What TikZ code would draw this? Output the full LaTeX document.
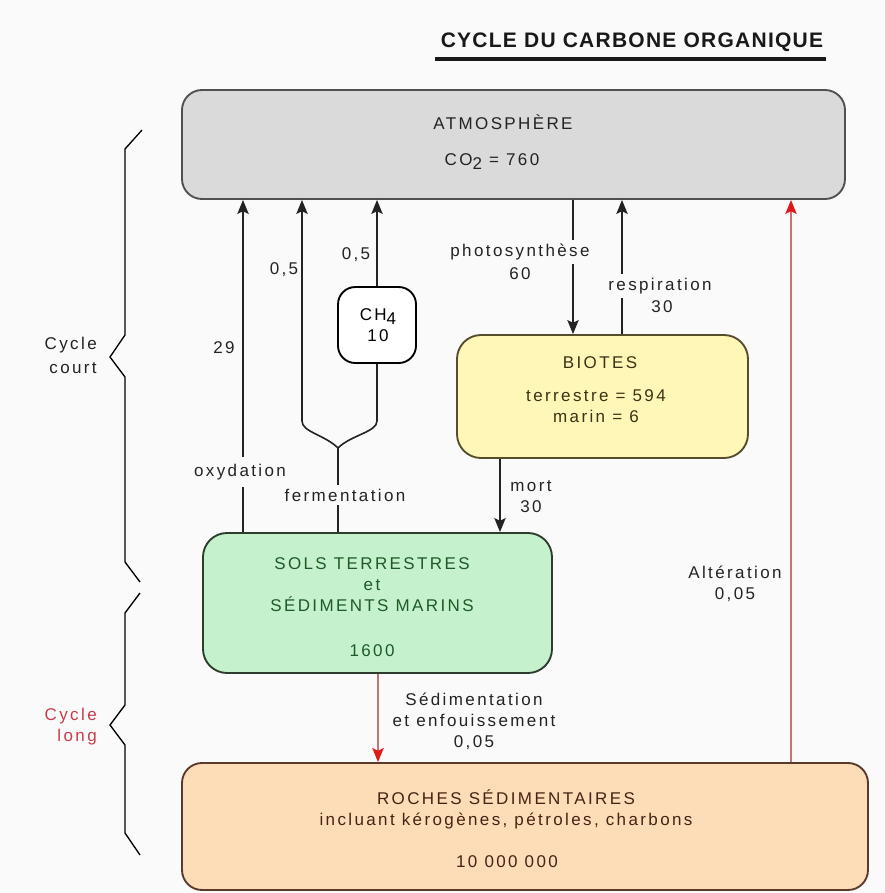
\documentclass[tikz,border=0pt]{standalone}
\usepackage{fontspec}
\setmainfont{Liberation Sans}[LetterSpace=14]
\newfontfamily\titlefont{Liberation Sans}[LetterSpace=6]
\usetikzlibrary{arrows.meta,fit}
\definecolor{bg}{RGB}{250,250,250}
\definecolor{tgray}{RGB}{35,35,35}
\definecolor{lgray}{RGB}{35,35,35}
\definecolor{titlecol}{RGB}{25,25,25}
\definecolor{atmfill}{RGB}{218,218,218}
\definecolor{atmdraw}{RGB}{80,80,80}
\definecolor{biofill}{RGB}{255,247,183}
\definecolor{biodraw}{RGB}{85,78,45}
\definecolor{biotext}{RGB}{60,50,20}
\definecolor{solfill}{RGB}{197,242,205}
\definecolor{soldraw}{RGB}{45,60,45}
\definecolor{soltext}{RGB}{30,90,40}
\definecolor{rocfill}{RGB}{253,221,184}
\definecolor{rocdraw}{RGB}{90,58,42}
\definecolor{roctext}{RGB}{70,35,20}
\definecolor{redline}{RGB}{200,115,115}
\definecolor{redtip}{RGB}{225,25,25}
\definecolor{redtext}{RGB}{200,60,75}
\begin{document}
\begin{tikzpicture}[x=0.75pt,y=-0.75pt,
  txt/.style={font=\fontsize{12.75pt}{15.75pt}\selectfont, text=tgray, inner sep=0pt, align=center},
  lbl/.style={txt, fill=bg, inner xsep=1pt, inner ysep=3pt},
  box/.style={draw, line width=1.4pt, inner sep=0pt},
  plainline/.style={line width=1.2pt, draw=lgray},
  arr/.style={plainline, -{Stealth[length=10.5pt,width=8.5pt,inset=2pt]}},
  redarr/.style={line width=1.2pt, draw=redline, -{Stealth[length=10.5pt,width=8.5pt,inset=2pt,color=redtip]}},
  bracestyle/.style={line width=1pt, draw=black}
]
\fill[bg] (0,0) rectangle (885,893);
\useasboundingbox (0,0) rectangle (885,893);

% title
\node (title) [font=\titlefont\bfseries\fontsize{15.75pt}{18pt}\selectfont, text=titlecol, inner sep=0pt] at (632,42) {CYCLE DU CARBONE ORGANIQUE};
\coordinate (ulL) at (435,59);
\coordinate (ulR) at (826,59);
\draw[line width=3pt, titlecol] (ulL) -- (ulR);

% boxes
\node (atm) [box, draw=atmdraw, fill=atmfill, rounded corners=15pt, fit={(182,90) (845,199)}] {};
\node (ch4) [box, draw=black, fill=white, rounded corners=13pt, fit={(338,287) (416,363)}] {};
\node (bio) [box, draw=biodraw, fill=biofill, rounded corners=18pt, fit={(457,335) (748,458)}] {};
\node (sols) [box, draw=soldraw, fill=solfill, rounded corners=18pt, fit={(203,533) (552,673)}] {};
\node (roc) [box, draw=rocdraw, fill=rocfill, rounded corners=15pt, fit={(182,763) (868,890)}] {};

% column coordinates
\coordinate (cOx) at (243,0);
\coordinate (cL) at (302,0);
\coordinate (cusp) at (338,448);
\coordinate (lk) at (302,421);
\coordinate (rk) at (377,421);
\coordinate (cP) at (573,0);
\coordinate (cR) at (622,0);
\coordinate (cM) at (500,0);
\coordinate (cS) at (378,0);
\coordinate (cA) at (791,0);

% connectors
\draw[arr] (sols.north -| cOx) -- (atm.south -| cOx);
\draw[arr] (cusp) .. controls (325,435) and (302,432) .. (lk) -- (atm.south -| cL);
\draw[plainline] (cusp) .. controls (351,435) and (377,432) .. (rk) -- (ch4.south);
\draw[plainline] (cusp) -- (sols.north -| cusp);
\draw[arr] (ch4.north) -- (atm.south -| ch4.north);
\draw[arr] (atm.south -| cP) -- (bio.north -| cP);
\draw[arr] (bio.north -| cR) -- (atm.south -| cR);
\draw[arr] (bio.south -| cM) -- (sols.north -| cM);
\draw[redarr] (sols.south -| cS) -- (roc.north -| cS);
\draw[redarr] (roc.north -| cA) -- (atm.south -| cA);

% braces
\coordinate (b1a) at (142,130);
\coordinate (b1b) at (125,149);
\coordinate (b1c) at (125,335);
\coordinate (b1d) at (110,357);
\coordinate (b1e) at (125,377);
\coordinate (b1f) at (125,562);
\coordinate (b1g) at (140,582);
\draw[bracestyle] (b1a) -- (b1b) -- (b1c) -- (b1d) -- (b1e) -- (b1f) -- (b1g);
\coordinate (b2a) at (140,593);
\coordinate (b2b) at (125,613);
\coordinate (b2c) at (125,705);
\coordinate (b2d) at (110,725);
\coordinate (b2e) at (125,745);
\coordinate (b2f) at (125,833);
\coordinate (b2g) at (140,855);
\draw[bracestyle] (b2a) -- (b2b) -- (b2c) -- (b2d) -- (b2e) -- (b2f) -- (b2g);

% texts in boxes
\node (atmT1) [txt] at (503,122) {ATMOSPHÈRE};
\node (atmT2) [txt] at (492,162) {CO\raisebox{-0.45ex}{2} = 760};
\node (ch4T) [txt, text=black] at (378,325) {CH\raisebox{-0.45ex}{4}\\10};
\node (bioT1) [txt, text=biotext] at (600,363) {BIOTES};
\node (bioT2) [txt, text=biotext] at (596,406) {terrestre = 594\\marin = 6};
\node (solT) [txt, text=soltext] at (372,585) {SOLS TERRESTRES\\et\\SÉDIMENTS MARINS};
\node (solT2) [txt, text=soltext] at (372,651) {1600};
\node (rocT1) [txt, text=roctext] at (506,809) {ROCHES SÉDIMENTAIRES\\incluant kérogènes, pétroles, charbons};
\node (rocT2) [txt, text=roctext] at (507,862) {10 000 000};

% connector labels
\node (l05a) [txt] at (284,270) {0,5};
\node (l05b) [txt] at (356,255) {0,5};
\node (l29) [txt] at (224,348) {29};
\node (lox) [lbl, inner ysep=5pt] at (240,472) {oxydation};
\node (lferm) [lbl] at (345,495) {fermentation};
\node (lphoto) [lbl] at (520,252) {photosynthèse};
\node (l60) [txt] at (520,274) {60};
\node (lresp) [lbl] at (660,286) {respiration};
\node (l30r) [txt] at (662,307) {30};
\node (lmort) [txt] at (531,497) {mort\\30};
\node (lsed) [txt] at (474,721) {Sédimentation\\et enfouissement\\0,05};
\node (lalt) [txt] at (735,584) {Altération\\0,05};

% side labels
\node (court) [txt, align=right, anchor=east, font=\fontsize{12.75pt}{18pt}\selectfont] at (97,355) {Cycle\\court};
\node (long) [txt, align=right, anchor=east, text=redtext] at (97,727) {Cycle\\long};
\end{tikzpicture}
\end{document}
